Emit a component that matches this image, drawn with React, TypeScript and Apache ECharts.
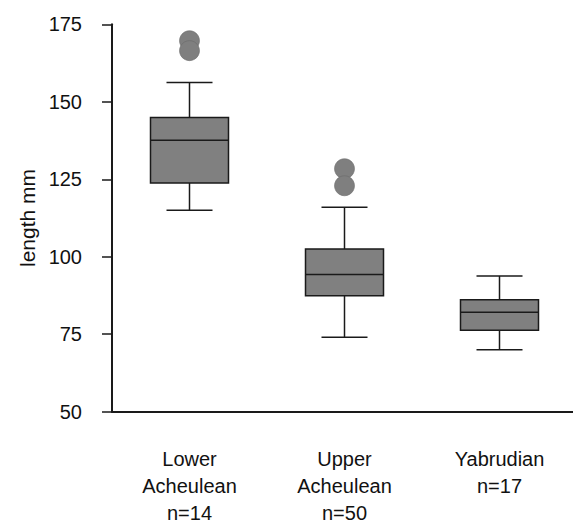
import React, { useEffect, useRef } from "react";
import * as echarts from "echarts";

const categories = ["Lower\nAcheulean\nn=14", "Upper\nAcheulean\nn=50", "Yabrudian\nn=17"];
const whiskerLow = [115, 74, 70];
const q1 = [123.8, 87.4, 76.3];
const median = [137.6, 94.3, 82.1];
const q3 = [144.9, 102.5, 86.1];
const whiskerHigh = [156.2, 116, 93.8];
const outlierGroup = [0, 0, 1, 1];
const outlierValue = [169.7, 166.5, 128.4, 122.9];
const yTicks = [50, 75, 100, 125, 150, 175];

const FONT = "'Liberation Sans', Arial, Helvetica, sans-serif";
const BOX_W = 78;
const CAP_W = 46;
const STROKE = "#1a1a1a";

export default function App() {
  const ref = useRef<HTMLDivElement>(null);
  useEffect(() => {
    if (!ref.current) return;
    const chart = echarts.init(ref.current, null, { renderer: "svg" });
    const boxData = categories.map((_, i) => [i, whiskerLow[i], q1[i], median[i], q3[i], whiskerHigh[i]]);
    const outliers = outlierGroup.map((g, i) => [g, outlierValue[i]]);
    chart.setOption({
      animation: false,
      backgroundColor: "#ffffff",
      grid: { left: 112, top: 24.3, width: 465, height: 387.4, outerBoundsMode: "none", containLabel: false },
      xAxis: {
        type: "category",
        data: categories,
        boundaryGap: true,
        axisLine: { lineStyle: { color: STROKE, width: 2 } },
        axisTick: { alignWithLabel: true, length: 10, lineStyle: { color: STROKE, width: 1.5 } },
        axisLabel: { margin: 34, color: "#111", fontFamily: FONT, fontSize: 20, lineHeight: 27, interval: 0 },
        splitLine: { show: false },
      },
      yAxis: {
        type: "value",
        min: yTicks[0],
        max: yTicks[yTicks.length - 1],
        interval: 25,
        name: "length mm",
        nameLocation: "middle",
        nameGap: 72,
        nameRotate: 90,
        nameTextStyle: { color: "#111", fontFamily: FONT, fontSize: 21 },
        axisLine: { show: true, lineStyle: { color: STROKE, width: 2 } },
        axisTick: { show: true, length: 10, lineStyle: { color: STROKE, width: 1.5 } },
        axisLabel: { margin: 30, color: "#111", fontFamily: FONT, fontSize: 20 },
        splitLine: { show: false },
      },
      series: [
        {
          type: "custom",
          data: boxData,
          encode: { x: 0, y: [1, 2, 3, 4, 5] },
          renderItem: (params: any, api: any) => {
            const idx = api.value(0);
            const pLow = api.coord([idx, api.value(1)]);
            const pQ1 = api.coord([idx, api.value(2)]);
            const pMed = api.coord([idx, api.value(3)]);
            const pQ3 = api.coord([idx, api.value(4)]);
            const pHigh = api.coord([idx, api.value(5)]);
            const cx = pMed[0];
            const lineStyle = { stroke: STROKE, lineWidth: 1.5, fill: null };
            return {
              type: "group",
              children: [
                { type: "line", shape: { x1: cx, y1: pHigh[1], x2: cx, y2: pQ3[1] }, style: lineStyle },
                { type: "line", shape: { x1: cx, y1: pQ1[1], x2: cx, y2: pLow[1] }, style: lineStyle },
                { type: "line", shape: { x1: cx - CAP_W / 2, y1: pHigh[1], x2: cx + CAP_W / 2, y2: pHigh[1] }, style: lineStyle },
                { type: "line", shape: { x1: cx - CAP_W / 2, y1: pLow[1], x2: cx + CAP_W / 2, y2: pLow[1] }, style: lineStyle },
                {
                  type: "rect",
                  shape: { x: cx - BOX_W / 2, y: pQ3[1], width: BOX_W, height: pQ1[1] - pQ3[1] },
                  style: { fill: "#808080", stroke: STROKE, lineWidth: 1.5 },
                },
                { type: "line", shape: { x1: cx - BOX_W / 2, y1: pMed[1], x2: cx + BOX_W / 2, y2: pMed[1] }, style: lineStyle },
              ],
            };
          },
          z: 2,
        },
        {
          type: "scatter",
          data: outliers,
          symbol: "circle",
          symbolSize: 20,
          itemStyle: { color: "#7f7f7f", borderColor: "#6a6a6a", borderWidth: 0.6, opacity: 1 },
          z: 3,
        },
      ],
    });
    return () => chart.dispose();
  }, []);
  return <div ref={ref} style={{ position: "fixed", left: 0, top: 0, width: 573, height: 523 }} />;
}
